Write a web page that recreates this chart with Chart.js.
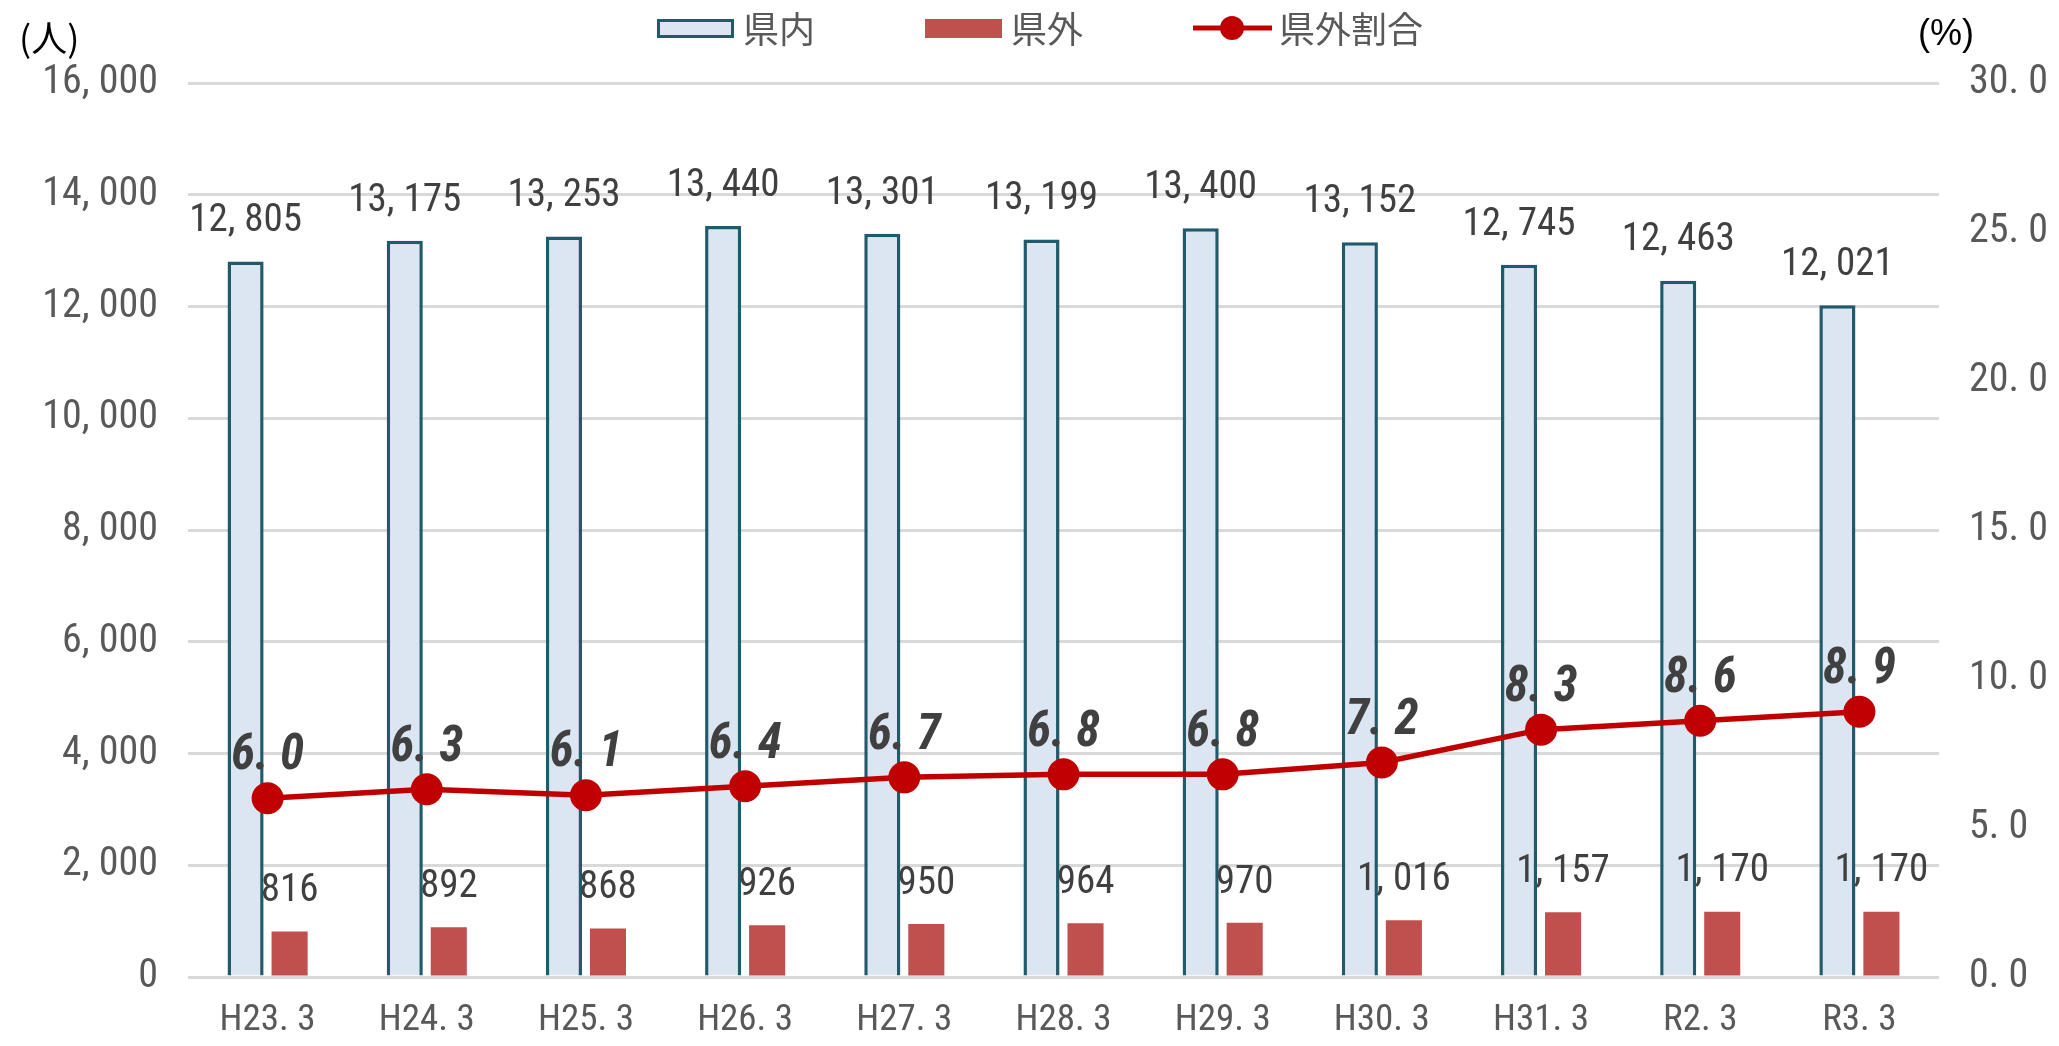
<!DOCTYPE html>
<html>
<head>
<meta charset="utf-8">
<script src="https://cdn.jsdelivr.net/npm/chart.js@4"></script>
<style>
  html, body { margin: 0; padding: 0; background: #fff; }
  #wrap { width: 2059px; height: 1046px; position: relative; }
</style>
</head>
<body>
<div id="wrap"><canvas id="chart"></canvas></div>
<script>
const categories = ['H23.3', 'H24.3', 'H25.3', 'H26.3', 'H27.3', 'H28.3', 'H29.3', 'H30.3', 'H31.3', 'R2.3', 'R3.3'];
const inPref = [12805, 13175, 13253, 13440, 13301, 13199, 13400, 13152, 12745, 12463, 12021];
const outPref = [816, 892, 868, 926, 950, 964, 970, 1016, 1157, 1170, 1170];
const outRatio = [6.0, 6.3, 6.1, 6.4, 6.7, 6.8, 6.8, 7.2, 8.3, 8.6, 8.9];

const NARROW = "'Roboto Condensed', 'DejaVu Sans Condensed', sans-serif";
const CJK = "'Noto Sans CJK JP', sans-serif";

// the source font has wide punctuation, mimic with a space
const wide = s => s.replace(/([,.])/g, '$1 ');
const fmtInt = v => wide(Number(v).toLocaleString('en-US'));

const valueLabels = {
  id: 'valueLabels',
  afterDatasetsDraw(chart) {
    const ctx = chart.ctx;
    ctx.save();
    ctx.textAlign = 'center';
    ctx.textBaseline = 'middle';
    ctx.fillStyle = '#404040';
    chart.data.datasets.forEach((ds, i) => {
      const meta = chart.getDatasetMeta(i);
      meta.data.forEach((el, j) => {
        const v = ds.data[j];
        if (ds.type === 'line') {
          ctx.font = 'italic bold 49px ' + NARROW;
          ctx.fillText(wide(v.toFixed(1)), el.x, el.y - 41);
        } else {
          ctx.font = '39px ' + NARROW;
          ctx.fillText(fmtInt(v), el.x, el.y - 40);
        }
      });
    });
    ctx.restore();
  }
};

const topLegend = {
  id: 'topLegend',
  afterDraw(chart) {
    const ctx = chart.ctx;
    ctx.save();
    // axis unit titles
    ctx.fillStyle = '#000';
    ctx.textBaseline = 'middle';
    ctx.textAlign = 'left';
    ctx.font = '36px ' + CJK;
    ctx.fillText('(人)', 19, 38);
    ctx.font = '36px Liberation Sans, sans-serif';
    ctx.fillText('(%)', 1918, 35);

    // legend row
    ctx.font = '36px ' + CJK;
    let x = 657;
    const y = 28;
    chart.data.datasets.forEach(ds => {
      if (ds.type === 'line') {
        ctx.strokeStyle = ds.borderColor;
        ctx.lineWidth = 5;
        ctx.beginPath();
        ctx.moveTo(x, y);
        ctx.lineTo(x + 79, y);
        ctx.stroke();
        ctx.fillStyle = ds.pointBackgroundColor;
        ctx.beginPath();
        ctx.arc(x + 39, y, 12, 0, Math.PI * 2);
        ctx.fill();
      } else {
        ctx.fillStyle = ds.backgroundColor;
        ctx.fillRect(x, y - 9, 77, 19);
        if (ds.borderWidth) {
          ctx.strokeStyle = ds.borderColor;
          ctx.lineWidth = 3;
          ctx.strokeRect(x + 1.5, y - 7.5, 74, 16);
        }
      }
      ctx.fillStyle = '#595959';
      const tx = x + 86;
      ctx.fillText(ds.label, tx, y + 1);
      x = tx + ctx.measureText(ds.label).width + 110;
    });
    ctx.restore();
  }
};

const data = {
  labels: categories,
  datasets: [
    {
      label: '県内',
      data: inPref,
      backgroundColor: '#dce6f2',
      borderColor: '#215a6b',
      borderWidth: 3.5,
      yAxisID: 'y',
      order: 1,
      categoryPercentage: 0.553,
      barPercentage: 0.82
    },
    {
      label: '県外',
      data: outPref,
      backgroundColor: '#c0504d',
      borderWidth: 0,
      yAxisID: 'y',
      order: 1,
      categoryPercentage: 0.553,
      barPercentage: 0.82
    },
    {
      type: 'line',
      label: '県外割合',
      data: outRatio,
      borderColor: '#c00000',
      borderWidth: 5.5,
      pointRadius: 16,
      pointBackgroundColor: '#c00000',
      pointBorderWidth: 0,
      tension: 0,
      yAxisID: 'y1',
      order: 0
    }
  ]
};

const config = {
  type: 'bar',
  data: data,
  options: {
    responsive: true,
    maintainAspectRatio: false,
    animation: false,
    layout: { padding: { top: 83, left: 0, right: 0, bottom: 0 } },
    plugins: {
      legend: { display: false },
      tooltip: { enabled: false }
    },
    scales: {
      x: {
        grid: { display: false },
        border: { display: false },
        ticks: {
          color: '#595959',
          font: { family: NARROW, size: 37 },
          padding: 14,
          maxRotation: 0,
          callback: function (v) { return wide(this.getLabelForValue(v)); }
        },
        afterFit: s => { s.height = 69; }
      },
      y: {
        position: 'left',
        min: 0,
        max: 16000,
        ticks: {
          stepSize: 2000,
          padding: 30,
          color: '#595959',
          font: { family: NARROW, size: 40 },
          callback: v => fmtInt(v)
        },
        grid: { color: '#d9d9d9', lineWidth: 3, drawTicks: false },
        border: { display: false },
        afterFit: s => { s.width = 188; }
      },
      y1: {
        position: 'right',
        min: 0,
        max: 30,
        ticks: {
          stepSize: 5,
          padding: 30,
          color: '#595959',
          font: { family: NARROW, size: 40 },
          callback: v => wide(Number(v).toFixed(1))
        },
        grid: { display: false, drawTicks: false },
        border: { display: false },
        afterFit: s => { s.width = 120; }
      }
    }
  },
  plugins: [valueLabels, topLegend]
};

const chart = new Chart(document.getElementById('chart'), config);
</script>
</body>
</html>
